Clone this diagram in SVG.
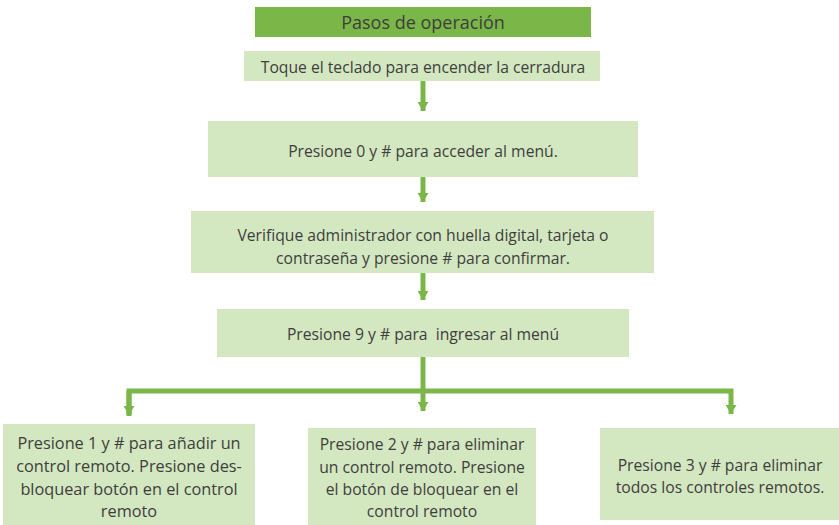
<svg xmlns="http://www.w3.org/2000/svg" width="839" height="525" viewBox="0 0 839 525">
<style>
.box{fill:#d3e7c0}
.title{fill:#7ab648}
text{font-family:"Open Sans","Liberation Sans",sans-serif;font-size:15.7px;fill:#3e3e3e;text-anchor:middle;dominant-baseline:central}
.t{font-size:18px}
.b{font-size:16.3px}
.c{stroke:#7ab648;stroke-width:5;fill:none}
</style>
<defs>
<marker id="ah" markerUnits="userSpaceOnUse" markerWidth="11" markerHeight="11" refX="9" refY="5.5" orient="auto">
<path d="M0,0 L9,5.5 L0,11 Z" fill="#7ab648"/>
</marker>
</defs>
<rect width="839" height="525" fill="#ffffff"/>
<g id="connectors">
<path class="c" d="M423,81 V111" marker-end="url(#ah)"/>
<path class="c" d="M423,177 V202" marker-end="url(#ah)"/>
<path class="c" d="M423,273 V300" marker-end="url(#ah)"/>
<path class="c" d="M423,357 V411" marker-end="url(#ah)"/>
<path class="c" d="M129,416 V391 H731 V414" marker-end="url(#ah)"/>
<path class="c" d="M129,391 V415" marker-end="url(#ah)"/>
</g>
<g id="title">
<rect class="title" x="255" y="7" width="336" height="30"/>
<text class="t" x="423" y="22">Pasos de operación</text>
</g>
<g id="n1">
<rect class="box" x="244" y="51" width="356" height="30"/>
<text x="423" y="67">Toque el teclado para encender la cerradura</text>
</g>
<g id="n2">
<rect class="box" x="208" y="121" width="430" height="56"/>
<text x="423" y="151">Presione 0 y # para acceder al menú.</text>
</g>
<g id="n3">
<rect class="box" x="191" y="211" width="463" height="62"/>
<text x="423" y="235">Verifique administrador con huella digital, tarjeta o</text>
<text x="423" y="258">contraseña y presione # para confirmar.</text>
</g>
<g id="n4">
<rect class="box" x="217" y="309" width="412" height="48"/>
<text x="423" y="334" xml:space="preserve">Presione 9 y # para  ingresar al menú</text>
</g>
<g id="n5">
<rect class="box" x="3" y="424" width="252" height="101"/>
<text class="b" x="129" y="443">Presione 1 y # para añadir un</text>
<text class="b" x="129" y="466">control remoto. Presione des-</text>
<text class="b" x="129" y="489">bloquear botón en el control</text>
<text class="b" x="129" y="511">remoto</text>
</g>
<g id="n6">
<rect class="box" x="308" y="428" width="228" height="97"/>
<text x="422" y="444">Presione 2 y # para eliminar</text>
<text x="422" y="467">un control remoto. Presione</text>
<text x="422" y="489">el botón de bloquear en el</text>
<text x="422" y="511">control remoto</text>
</g>
<g id="n7">
<rect class="box" x="600" y="428" width="239" height="92"/>
<text x="720" y="465">Presione 3 y # para eliminar</text>
<text x="720" y="487">todos los controles remotos.</text>
</g>
</svg>
